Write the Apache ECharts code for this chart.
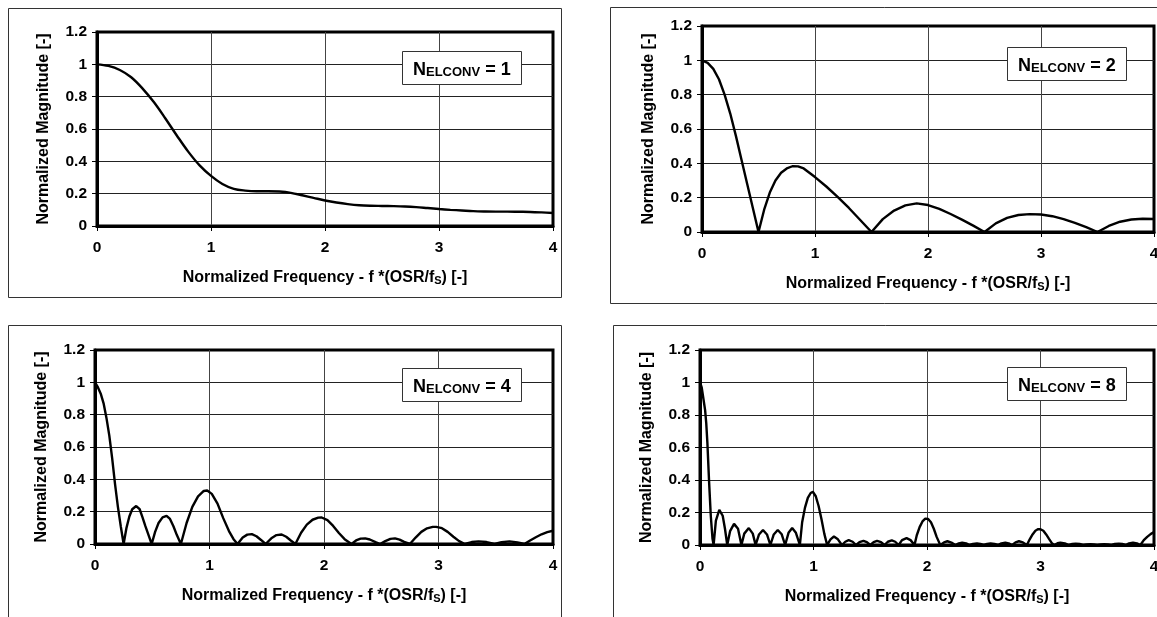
<!DOCTYPE html>
<html><head><meta charset="utf-8">
<script src="https://cdn.jsdelivr.net/npm/echarts@6/dist/echarts.min.js"></script>
<style>html,body{margin:0;padding:0;background:#fff;}#c{width:1157px;height:617px;}</style>
</head><body><div id="c"></div>
<script>
// ---- data ----
const convLabels = ['1', '2', '4', '8'];
const xTickLabels = ['0', '1', '2', '3', '4'];
const yTickLabels = ['0', '0.2', '0.4', '0.6', '0.8', '1', '1.2'];
const xTitle = 'Normalized Frequency - f *(OSR/f{sub|S}) [-]';
const yTitle = 'Normalized Magnitude [-]';

// [normalized frequency, normalized magnitude]
const elconv1 = [[0,1.0],[0.1,0.99],[0.2,0.965],[0.3,0.92],[0.4,0.85],[0.5,0.765],[0.6,0.665],[0.7,0.56],[0.8,0.46],[0.9,0.375],[1.0,0.31],[1.1,0.26],[1.2,0.23],[1.3,0.219],[1.4,0.215],[1.5,0.215],[1.6,0.213],[1.7,0.205],[1.8,0.19],[1.9,0.174],[2.0,0.158],[2.1,0.145],[2.2,0.135],[2.3,0.128],[2.4,0.125],[2.5,0.124],[2.6,0.123],[2.7,0.121],[2.8,0.117],[2.9,0.111],[3.0,0.105],[3.1,0.1],[3.2,0.096],[3.3,0.092],[3.4,0.09],[3.5,0.089],[3.6,0.089],[3.7,0.088],[3.8,0.087],[3.9,0.084],[4.0,0.08]];

const elconv2 = [[0,1.0],[0.05,0.985],[0.1,0.95],[0.15,0.89],[0.2,0.8],[0.25,0.69],[0.3,0.56],[0.35,0.42],[0.4,0.28],[0.45,0.14],[0.5,0],[0.55,0.13],[0.6,0.23],[0.65,0.3],[0.7,0.345],[0.75,0.37],[0.8,0.383],[0.85,0.382],[0.9,0.37],[0.95,0.345],[1.0,0.32],[1.1,0.265],[1.2,0.205],[1.3,0.14],[1.4,0.07],[1.5,0],[1.6,0.075],[1.7,0.125],[1.8,0.155],[1.9,0.167],[2.0,0.157],[2.1,0.135],[2.2,0.105],[2.3,0.072],[2.4,0.037],[2.5,0],[2.6,0.05],[2.7,0.082],[2.8,0.099],[2.9,0.104],[3.0,0.102],[3.1,0.092],[3.2,0.075],[3.3,0.053],[3.4,0.028],[3.5,0],[3.6,0.035],[3.7,0.06],[3.8,0.073],[3.9,0.077],[4.0,0.076]];

const elconv4 = [[0,1.0],[0.025,0.97],[0.05,0.93],[0.075,0.87],[0.1,0.78],[0.125,0.67],[0.15,0.53],[0.175,0.37],[0.2,0.23],[0.225,0.11],[0.25,0],
[0.275,0.1],[0.3,0.17],[0.325,0.215],[0.36,0.235],[0.39,0.215],[0.415,0.165],[0.44,0.11],[0.47,0.05],[0.495,0],
[0.525,0.075],[0.555,0.13],[0.59,0.165],[0.625,0.174],[0.655,0.155],[0.685,0.11],[0.715,0.055],[0.75,0],
[0.8,0.13],[0.85,0.23],[0.9,0.295],[0.95,0.328],[0.98,0.331],[1.02,0.31],[1.07,0.25],[1.12,0.16],[1.17,0.08],[1.21,0.03],[1.245,0],
[1.29,0.04],[1.33,0.058],[1.37,0.061],[1.41,0.048],[1.45,0.025],[1.49,0],
[1.54,0.035],[1.585,0.055],[1.63,0.059],[1.67,0.045],[1.71,0.022],[1.75,0],
[1.8,0.07],[1.85,0.12],[1.9,0.15],[1.95,0.163],[1.98,0.164],[2.03,0.148],[2.08,0.112],[2.13,0.068],[2.18,0.03],[2.24,0],
[2.28,0.022],[2.32,0.033],[2.36,0.035],[2.4,0.028],[2.45,0.012],[2.49,0],
[2.535,0.018],[2.58,0.032],[2.62,0.035],[2.66,0.027],[2.7,0.013],[2.75,0],
[2.8,0.04],[2.85,0.075],[2.9,0.097],[2.95,0.106],[2.98,0.106],[3.03,0.098],[3.08,0.075],[3.13,0.045],[3.18,0.018],[3.23,0],
[3.29,0.012],[3.35,0.016],[3.42,0.012],[3.49,0],
[3.55,0.011],[3.62,0.016],[3.69,0.01],[3.75,0],
[3.8,0.022],[3.85,0.042],[3.9,0.06],[3.95,0.073],[4.0,0.082]];

const elconv8 = [[0,1.0],[0.015,0.97],[0.03,0.9],[0.045,0.83],[0.055,0.75],[0.065,0.63],[0.08,0.39],[0.095,0.18],[0.11,0.04],[0.12,0],
[0.14,0.15],[0.17,0.216],[0.2,0.18],[0.22,0.1],[0.24,0],
[0.265,0.085],[0.3,0.13],[0.335,0.1],[0.365,0],
[0.39,0.07],[0.43,0.104],[0.465,0.07],[0.49,0],
[0.52,0.065],[0.555,0.092],[0.59,0.065],[0.62,0],
[0.65,0.065],[0.685,0.092],[0.72,0.066],[0.75,0],
[0.78,0.075],[0.812,0.104],[0.845,0.075],[0.88,0],
[0.9,0.14],[0.925,0.23],[0.95,0.29],[0.975,0.32],[0.995,0.327],[1.02,0.3],[1.045,0.24],[1.07,0.16],[1.095,0.07],[1.12,0],
[1.15,0.035],[1.18,0.052],[1.215,0.035],[1.25,0],
[1.28,0.02],[1.31,0.03],[1.345,0.02],[1.375,0],
[1.405,0.018],[1.44,0.026],[1.47,0.018],[1.5,0],
[1.53,0.018],[1.56,0.026],[1.595,0.018],[1.625,0],
[1.655,0.02],[1.69,0.028],[1.72,0.02],[1.75,0],
[1.78,0.03],[1.82,0.042],[1.855,0.03],[1.89,0],
[1.91,0.06],[1.935,0.11],[1.96,0.145],[1.985,0.162],[2.01,0.16],[2.035,0.14],[2.06,0.1],[2.085,0.05],[2.117,0],
[2.15,0.016],[2.18,0.023],[2.215,0.015],[2.25,0],
[2.28,0.01],[2.31,0.014],[2.345,0.01],[2.375,0],
[2.405,0.007],[2.44,0.01],[2.47,0.007],[2.5,0],
[2.53,0.007],[2.56,0.01],[2.595,0.007],[2.625,0],
[2.655,0.01],[2.69,0.014],[2.72,0.01],[2.75,0],
[2.78,0.016],[2.81,0.023],[2.845,0.016],[2.88,0],
[2.905,0.035],[2.93,0.065],[2.955,0.088],[2.98,0.098],[3.0,0.097],[3.025,0.088],[3.05,0.065],[3.075,0.038],[3.1,0.012],[3.12,0],
[3.15,0.011],[3.175,0.015],[3.215,0.01],[3.25,0],
[3.28,0.006],[3.31,0.008],[3.345,0.006],[3.375,0],
[3.405,0.004],[3.44,0.005],[3.47,0.004],[3.5,0],
[3.53,0.004],[3.56,0.005],[3.595,0.004],[3.625,0],
[3.655,0.006],[3.69,0.008],[3.72,0.006],[3.75,0],
[3.78,0.01],[3.815,0.015],[3.85,0.01],[3.88,0],
[3.91,0.03],[3.94,0.05],[3.97,0.067],[4.0,0.08]];

const seriesData = [elconv1, elconv2, elconv4, elconv8];

// ---- layout ----
const FONT = '"Liberation Sans", Arial, sans-serif';
const layouts = [
  { grid: { left: 97,  top: 32,  width: 456, height: 194 }, box: { left: 402,  top: 51 },  frame: [8.5, 8.5, 553, 289],   smooth: 0.35 },
  { grid: { left: 702, top: 26,  width: 452, height: 206 }, box: { left: 1007, top: 47 },  frame: [610.5, 7.5, 560, 296], smooth: false },
  { grid: { left: 95,  top: 350, width: 458, height: 194 }, box: { left: 402,  top: 368 }, frame: [8.5, 325.5, 553, 330], smooth: false },
  { grid: { left: 700, top: 350, width: 454, height: 195 }, box: { left: 1007, top: 367 }, frame: [613.5, 325.5, 560, 330], smooth: false }
];

const baseText = { fontFamily: FONT, fontWeight: 'bold', fontSize: 15.5, color: '#000' };
const nameText = { fontFamily: FONT, fontWeight: 'bold', fontSize: 16, color: '#000' };
const subStyle = { fontFamily: FONT, fontWeight: 'bold', fontSize: 11, color: '#000', verticalAlign: 'bottom', lineHeight: 13 };

const option = {
  animation: false,
  backgroundColor: '#fff',
  graphic: layouts.map(l => ({
    type: 'rect', silent: true, z: 0,
    shape: { x: l.frame[0], y: l.frame[1], width: l.frame[2], height: l.frame[3] },
    style: { fill: 'none', stroke: '#333', lineWidth: 1 }
  })),
  title: layouts.map((l, i) => ({
    text: '{n|N}{s|ELCONV}{n| = ' + convLabels[i] + '}',
    left: l.box.left, top: l.box.top,
    padding: [8, 11, 6, 11],
    backgroundColor: '#fff', borderColor: '#333', borderWidth: 1,
    z: 10,
    textStyle: {
      lineHeight: 20,
      rich: {
        n: { fontFamily: FONT, fontWeight: 'bold', fontSize: 18, color: '#000', lineHeight: 20, verticalAlign: 'bottom' },
        s: { fontFamily: FONT, fontWeight: 'bold', fontSize: 13, color: '#000', lineHeight: 15, verticalAlign: 'bottom' }
      }
    }
  })),
  grid: layouts.map(l => Object.assign({ show: true, borderColor: '#000', borderWidth: 3, backgroundColor: 'transparent', containLabel: false, outerBoundsMode: 'none' }, l.grid)),
  xAxis: layouts.map((l, i) => ({
    type: 'value', gridIndex: i, min: 0, max: 4, interval: 1,
    name: xTitle, nameLocation: 'middle', nameGap: 44,
    nameTextStyle: Object.assign({}, nameText, { rich: { sub: subStyle } }),
    axisLine: { show: true, onZero: false, lineStyle: { color: '#000', width: 3 } },
    axisTick: { show: true, inside: false, length: 5, lineStyle: { color: '#000', width: 1 } },
    axisLabel: Object.assign({}, baseText, { margin: 14, formatter: v => xTickLabels[Math.round(v)] }),
    splitLine: { show: true, showMinLine: false, showMaxLine: false, lineStyle: { color: '#444', width: 1 } }
  })),
  yAxis: layouts.map((l, i) => ({
    type: 'value', gridIndex: i, min: 0, max: 1.2, interval: 0.2,
    name: yTitle, nameLocation: 'middle', nameGap: 45,
    nameTextStyle: Object.assign({}, nameText),
    axisLine: { show: true, onZero: false, lineStyle: { color: '#000', width: 3 } },
    axisTick: { show: true, inside: false, length: 5, lineStyle: { color: '#000', width: 1 } },
    axisLabel: Object.assign({}, baseText, { margin: 10, formatter: v => yTickLabels[Math.round(v / 0.2)] }),
    splitLine: { show: true, showMinLine: false, showMaxLine: false, lineStyle: { color: '#222', width: 1 } }
  })),
  series: seriesData.map((d, i) => ({
    type: 'line', xAxisIndex: i, yAxisIndex: i, data: d,
    showSymbol: false, symbol: 'none', smooth: layouts[i].smooth,
    lineStyle: { color: '#000', width: 2.4 }, z: 3, clip: false
  }))
};

const chart = echarts.init(document.getElementById('c'), null, { renderer: 'canvas' });
chart.setOption(option);
</script></body></html>
